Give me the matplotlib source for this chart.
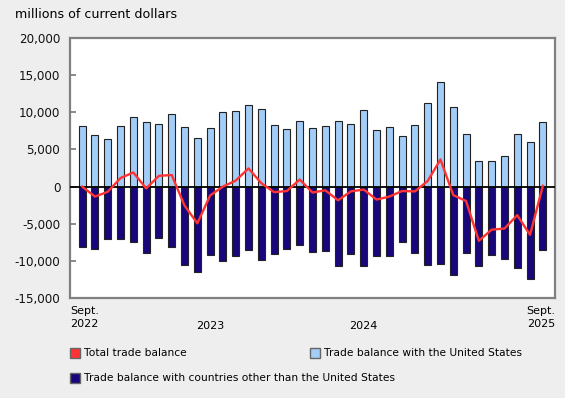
import numpy as np
import matplotlib.pyplot as plt
from matplotlib.patches import Rectangle
from matplotlib.transforms import blended_transform_factory

# monthly, Sept. 2022 to Sept. 2025 (millions of current dollars)
months = np.arange(37)
us_balance = [8150, 7000, 6350, 8200, 9400, 8650, 8400, 9750, 8050,
              6500, 7950, 10000, 10200, 11000, 10400, 8350, 7800, 8850, 7950,
              8150, 8800, 8400, 10350, 7600, 8000, 6800, 8350, 11300, 14050,
              10750, 7050, 3400, 3400, 4050, 7050, 6000, 8650]
other_balance = [-8150, -8400, -7000, -7000, -7500, -8900, -6950, -8200, -10600,
                 -11450, -9150, -10000, -9400, -8550, -9950, -9100, -8400, -7900, -8750,
                 -8650, -10650, -9050, -10750, -9350, -9350, -7400, -9000, -10550, -10400,
                 -11900, -9000, -10700, -9200, -9700, -10900, -12500, -8550]
total_balance = [0, -1350, -700, 1150, 1900, -250, 1450, 1550, -2550,
                 -4950, -1200, 0, 800, 2450, 450, -750, -600, 950, -800,
                 -500, -1850, -650, -400, -1750, -1350, -600, -650, 750, 3650,
                 -1150, -1950, -7300, -5800, -5650, -3850, -6500, 100]
yticks = [-15000, -10000, -5000, 0, 5000, 10000, 15000, 20000]
year_labels = ['2023', '2024']
year_pos = [10, 22]

c_us = '#a3cdf7'
c_other = '#17067c'
c_total = '#ff3333'
bg = '#eeeeee'

fig = plt.figure(figsize=(5.65, 3.98), dpi=100, facecolor=bg)
ax = fig.add_axes([70/565, 1-298/398, 485/565, 260/398])
ax.set_facecolor('white')

ax.bar(months, us_balance, width=0.55, color=c_us, edgecolor='#222222', linewidth=0.8, zorder=2)
ax.bar(months, other_balance, width=0.55, color=c_other, edgecolor='#222222', linewidth=0.8, zorder=2)
ax.axhline(0, color='black', linewidth=1.3, zorder=3)
ax.plot(months, total_balance, color=c_total, linewidth=1.7, zorder=4)

ax.set_xlim(-0.95, 36.95)
ax.set_ylim(-15000, 20000)
ax.set_yticks(yticks)
ax.set_yticklabels([f'{v:,}' for v in yticks], fontsize=8.6, color='#111111')
ax.tick_params(axis='y', direction='in', length=4, width=1.2, color='#777777', pad=7)
ax.set_xticks([])
for s in ax.spines.values():
    s.set_color('#808080')
    s.set_linewidth(1.6)

tr = blended_transform_factory(ax.transData, ax.transAxes)
ax.text(-0.95, -0.03, 'Sept.\n2022', transform=tr, ha='left', va='top', fontsize=8, linespacing=1.45)
ax.text(36.95, -0.03, 'Sept.\n2025', transform=tr, ha='right', va='top', fontsize=8, linespacing=1.45)
for lab, p in zip(year_labels, year_pos):
    ax.text(p, -0.088, lab, transform=tr, ha='center', va='top', fontsize=8)

fig.text(15/565, 1-14/398, 'millions of current dollars', fontsize=9.1, va='center', ha='left')

# legend
leg = [(70, 353, c_total, 'Total trade balance'),
       (310, 353, c_us, 'Trade balance with the United States'),
       (70, 378, c_other, 'Trade balance with countries other than the United States')]
for x, y, c, t in leg:
    fig.add_artist(Rectangle((x/565, 1-(y+5)/398), 10/565, 10/398, transform=fig.transFigure,
                             facecolor=c, edgecolor='#666666', linewidth=1.0))
    fig.text((x+14)/565, 1-y/398, t, fontsize=7.7, va='center', ha='left')

fig.savefig('out.png', dpi=100, facecolor=bg)
